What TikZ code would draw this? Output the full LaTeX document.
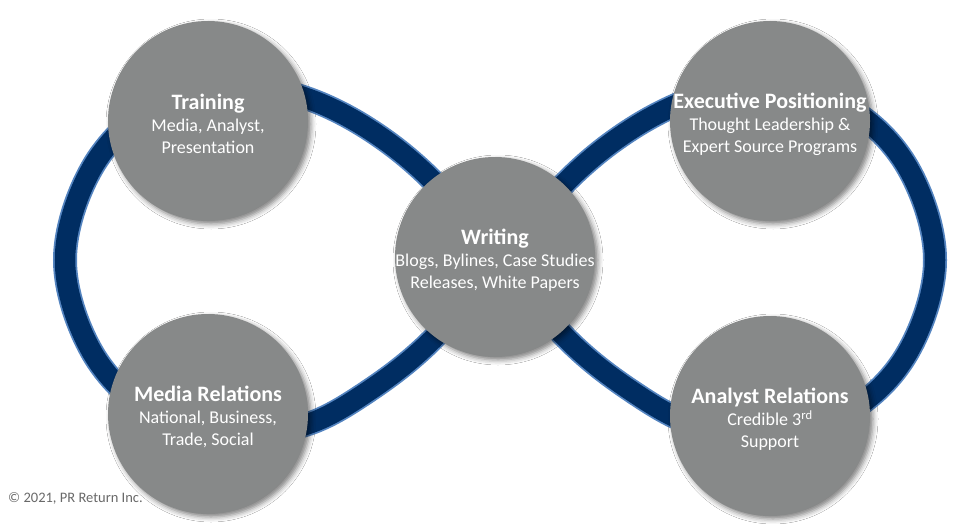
\documentclass[tikz,border=0pt]{standalone}
\usepackage{fontspec}
\setmainfont{Carlito}
\usetikzlibrary{shadows.blur}
\definecolor{navy}{RGB}{0,45,98}
\definecolor{edgeblue}{RGB}{84,132,192}
\definecolor{bubblegray}{RGB}{135,137,137}
\definecolor{copygray}{RGB}{105,105,105}
\tikzset{
  bubble/.style={circle, fill=bubblegray, minimum size=200pt, inner sep=0pt,
    blur shadow={shadow xshift=3pt, shadow yshift=-3pt, shadow blur radius=5pt, shadow opacity=50}},
  bubbletext/.style={align=center, text=white, inner sep=0pt, font=\fontsize{18}{22}\selectfont},
  band/.style={draw=navy, line width=20.5pt, preaction={draw=edgeblue, line width=24pt}},
}
\newcommand{\ttl}[1]{{\fontsize{22}{22}\selectfont\bfseries #1}}
\begin{document}
\begin{tikzpicture}[x=1pt, y=-1pt]
\useasboundingbox[fill=white] (0,0) rectangle (968,524);
% figure-eight band
\path[band] plot[smooth cycle, tension=0.6] coordinates {
  (500,260) (432,180) (367,128) (300,96) (236,87) (152,108) (92,168) (65,260)
  (92,352) (152,412) (236,433) (305,425) (367,392) (432,340)
  (500,260) (568,180) (633,128) (700,96) (764,87) (848,108) (908,168) (935,260)
  (908,352) (848,412) (764,433) (695,425) (633,392) (568,340)};
% circles
\node[bubble] (training) at (208,121) {};
\node[bubble] (exec) at (770,121) {};
\node[bubble] (media) at (208,414) {};
\node[bubble] (analyst) at (770,416) {};
\node[bubble] (writing) at (495,257) {};
% texts
\node[bubbletext] (trainingtxt) at ([yshift=-3pt]training.center) {\ttl{Training}\\Media, Analyst,\\Presentation};
\node[bubbletext] (exectxt) at ([yshift=-3pt]exec.center) {\ttl{Executive Positioning}\\Thought Leadership \&\\Expert Source Programs};
\node[bubbletext] (mediatxt) at ([yshift=-3pt]media.center) {\ttl{Media Relations}\\National, Business,\\Trade, Social};
\node[bubbletext] (analysttxt) at ([yshift=-3pt]analyst.center) {\ttl{Analyst Relations}\\Credible 3\textsuperscript{rd}\\Support};
\node[bubbletext] (writingtxt) at ([yshift=-3pt]writing.center) {\ttl{Writing}\\Blogs, Bylines, Case Studies\\Releases, White Papers};
% copyright
\node[anchor=base west, inner sep=0pt, text=copygray, font=\fontsize{14.5}{16}\selectfont] (copyright) at (8,502) {© 2021, PR Return Inc.};
\end{tikzpicture}
\end{document}
